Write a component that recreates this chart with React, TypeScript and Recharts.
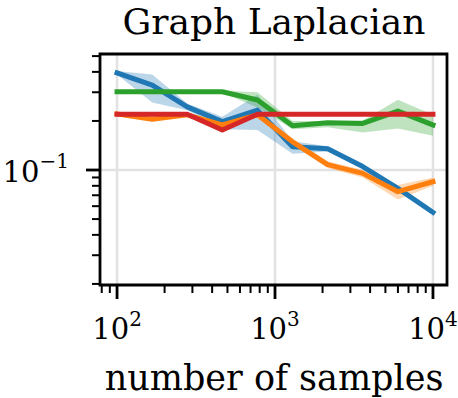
import { ComposedChart, Line, Area, XAxis, YAxis, CartesianGrid, ReferenceArea } from 'recharts';

// sample sizes (log-spaced, 10^2 .. 10^4)
const samples = [100, 167, 278, 464, 774, 1292, 2154, 3594, 5995, 10000];

// mean error per method
const blueMean = [0.394, 0.332, 0.244, 0.198, 0.233, 0.139, 0.135, 0.105, 0.0772, 0.055];
const orangeMean = [0.221, 0.205, 0.218, 0.189, 0.218, 0.149, 0.108, 0.0954, 0.0736, 0.0848];
const greenMean = [0.302, 0.302, 0.302, 0.302, 0.269, 0.187, 0.195, 0.193, 0.23, 0.189];
const redMean = [0.22, 0.22, 0.22, 0.176, 0.22, 0.22, 0.22, 0.22, 0.22, 0.22];

// spread bands [low, high]
const blueBand = [[0.385, 0.405], [0.26, 0.385], [0.233, 0.256], [0.178, 0.212], [0.176, 0.29], [0.126, 0.15], [0.13, 0.14], [0.102, 0.108], [0.075, 0.08], [0.053, 0.057]];
const orangeBand = [[0.214, 0.228], [0.2, 0.21], [0.213, 0.223], [0.182, 0.196], [0.212, 0.224], [0.143, 0.155], [0.103, 0.113], [0.09, 0.1], [0.066, 0.081], [0.08, 0.09]];
const greenBand = [[0.298, 0.306], [0.298, 0.306], [0.298, 0.306], [0.298, 0.306], [0.242, 0.3], [0.178, 0.2], [0.183, 0.2], [0.17, 0.201], [0.18, 0.27], [0.162, 0.218]];
const redBand = [[0.216, 0.224], [0.216, 0.224], [0.216, 0.224], [0.172, 0.18], [0.216, 0.224], [0.216, 0.224], [0.216, 0.224], [0.216, 0.224], [0.216, 0.224], [0.216, 0.224]];

const xTicks = [80, 90, 100, 200, 300, 400, 500, 600, 700, 800, 900, 1000, 2000, 3000, 4000, 5000, 6000, 7000, 8000, 9000, 10000];
const yTicks = [0.02, 0.03, 0.04, 0.05, 0.06, 0.07, 0.08, 0.09, 0.1, 0.2, 0.3, 0.4, 0.5];

const X_DOMAIN = [78, 12270];
const Y_DOMAIN = [0.0197, 0.515];

const COLORS = { blue: '#1f77b4', orange: '#ff7f0e', green: '#2ca02c', red: '#d62728' };
const FONT = '"DejaVu Serif", serif';

const data = samples.map((n, i) => ({
  n,
  blue: blueMean[i],
  orange: orangeMean[i],
  green: greenMean[i],
  red: redMean[i],
  blueBand: blueBand[i],
  orangeBand: orangeBand[i],
  greenBand: greenBand[i],
  redBand: redBand[i],
}));

const isPow10 = (v: number) => Math.abs(Math.log10(v) - Math.round(Math.log10(v))) < 1e-9;

const XTick = (props: any) => {
  const { x, y, payload } = props;
  const v = payload.value;
  const major = isPow10(v);
  return (
    <g>
      <line x1={x} x2={x} y1={y} y2={y + (major ? 14 : 8)} stroke="#000" strokeWidth={major ? 2.8 : 2} />
      {major && (
        <text x={x} y={y + 54} textAnchor="middle" fontFamily={FONT} fontSize={29} fill="#000">
          10<tspan dy={-13} fontSize={20}>{Math.round(Math.log10(v))}</tspan>
        </text>
      )}
    </g>
  );
};

const YTick = (props: any) => {
  const { x, y, payload } = props;
  const v = payload.value;
  const major = isPow10(v);
  return (
    <g>
      <line x1={x - (major ? 14 : 8)} x2={x} y1={y} y2={y} stroke="#000" strokeWidth={major ? 2.8 : 2} />
      {major && (
        <text x={x - 31} y={y + 12} textAnchor="end" fontFamily={FONT} fontSize={29} fill="#000">
          10<tspan dy={-14} fontSize={20}>{'\u2212' + Math.abs(Math.round(Math.log10(v)))}</tspan>
        </text>
      )}
    </g>
  );
};

const series = [
  { key: 'blue', color: COLORS.blue },
  { key: 'orange', color: COLORS.orange },
  { key: 'green', color: COLORS.green },
  { key: 'red', color: COLORS.red },
];

export default function App() {
  return (
    <div style={{ position: 'absolute', left: 0, top: 0, width: 458, height: 398, background: '#fff' }}>
      <ComposedChart width={458} height={398} data={data} margin={{ top: 54, right: 11, left: 0, bottom: 0 }}>
        <CartesianGrid stroke="#e2e2e2" strokeWidth={2.5} verticalValues={[100, 1000, 10000]} horizontalValues={[0.1]} />
        <XAxis
          dataKey="n"
          type="number"
          scale="log"
          domain={X_DOMAIN}
          allowDataOverflow
          ticks={xTicks}
          interval={0}
          height={113}
          tickSize={0}
          tickMargin={0}
          axisLine={false}
          tick={<XTick />}
        />
        <YAxis
          type="number"
          scale="log"
          domain={Y_DOMAIN}
          allowDataOverflow
          ticks={yTicks}
          interval={0}
          width={100}
          tickSize={0}
          tickMargin={0}
          axisLine={false}
          tick={<YTick />}
        />
        {series.map((s) => (
          <Area
            key={s.key + 'Band'}
            dataKey={s.key + 'Band'}
            stroke="none"
            fill={s.color}
            fillOpacity={0.3}
            isAnimationActive={false}
          />
        ))}
        {series.map((s) => (
          <Line
            key={s.key}
            dataKey={s.key}
            stroke={s.color}
            strokeWidth={5}
            strokeLinejoin="round"
            strokeLinecap="square"
            dot={false}
            isAnimationActive={false}
          />
        ))}
        <ReferenceArea
          x1={X_DOMAIN[0]}
          x2={X_DOMAIN[1]}
          y1={Y_DOMAIN[0]}
          y2={Y_DOMAIN[1]}
          fill="none"
          stroke="#000"
          strokeWidth={2.8}
          ifOverflow="visible"
        />
      </ComposedChart>
      <svg width={458} height={398} style={{ position: 'absolute', left: 0, top: 0, pointerEvents: 'none' }}>
        <text x={274} y={33.5} textAnchor="middle" fontFamily={FONT} fontSize={36} fill="#000">Graph Laplacian</text>
        <text x={274} y={390} textAnchor="middle" fontFamily={FONT} fontSize={35} fill="#000">number of samples</text>
      </svg>
    </div>
  );
}
